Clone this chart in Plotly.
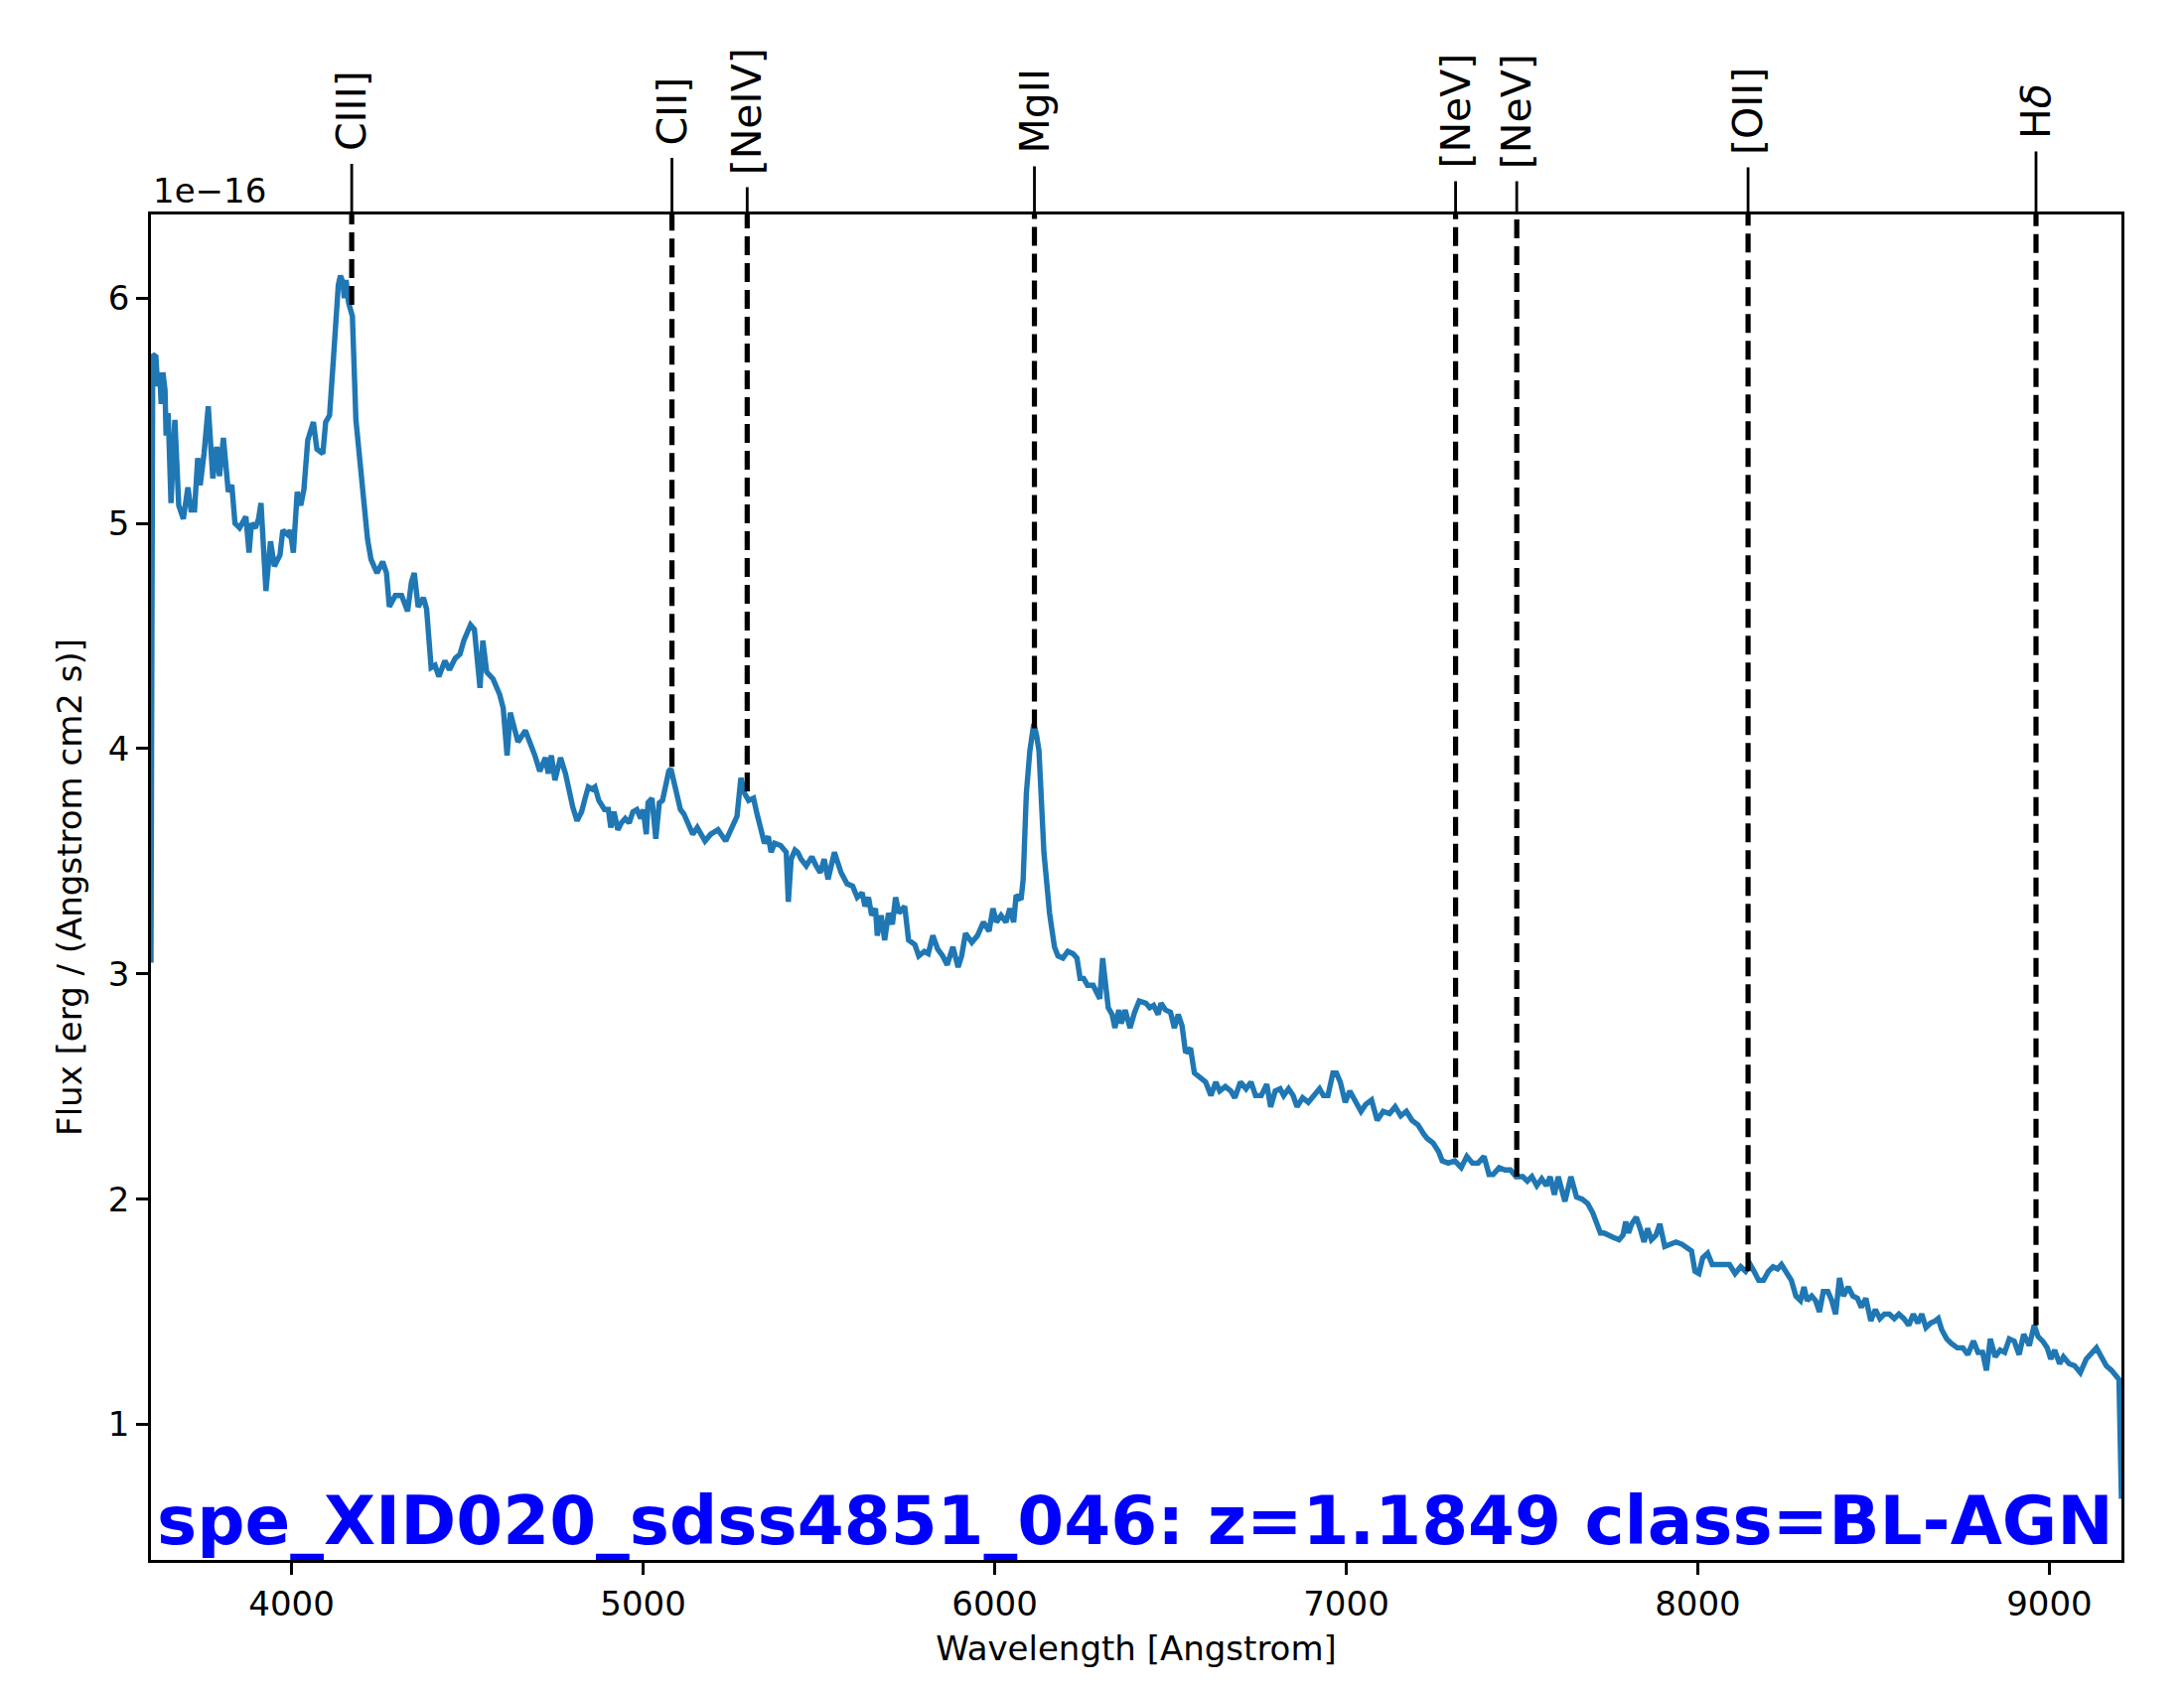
import plotly.graph_objects as go

# ---- spectrum (flux in units of 1e-16 erg / (Angstrom cm2 s)) ----
wavelength = [
    3600, 3605, 3614, 3619, 3625, 3629, 3634, 3640, 3643, 3649, 3657, 3668, 3679, 3692, 3705, 3714,
    3724, 3733, 3740, 3751, 3763, 3776, 3787, 3795, 3806, 3820, 3830, 3839, 3852, 3870, 3879, 3886,
    3897, 3906, 3913, 3927, 3940, 3951, 3967, 3975, 3989, 3996, 4005, 4016, 4026, 4035, 4046, 4062,
    4072, 4089, 4097, 4108, 4119, 4127, 4133, 4139, 4146, 4150, 4155, 4162, 4173, 4183, 4199, 4216,
    4226, 4243, 4259, 4270, 4278, 4295, 4313, 4330, 4341, 4349, 4360, 4375, 4384, 4397, 4408, 4419,
    4436, 4449, 4465, 4479, 4490, 4509, 4520, 4536, 4544, 4555, 4573, 4592, 4602, 4613, 4622, 4633,
    4644, 4665, 4681, 4692, 4706, 4722, 4730, 4739, 4749, 4765, 4779, 4790, 4800, 4812, 4825, 4835,
    4844, 4855, 4863, 4874, 4890, 4901, 4908, 4917, 4928, 4938, 4949, 4960, 4971, 4982, 4993, 5000,
    5009, 5014, 5025, 5036, 5046, 5055, 5063, 5073, 5079, 5090, 5098, 5106, 5116, 5127, 5141, 5154,
    5176, 5192, 5213, 5235, 5251, 5267, 5278, 5289, 5300, 5314, 5324, 5337, 5345, 5356, 5364, 5374,
    5391, 5407, 5413, 5421, 5432, 5440, 5449, 5464, 5480, 5492, 5504, 5515, 5526, 5544, 5553, 5563,
    5580, 5596, 5609, 5623, 5631, 5641, 5650, 5661, 5666, 5677, 5687, 5698, 5709, 5718, 5728, 5744,
    5755, 5773, 5784, 5800, 5811, 5824, 5838, 5852, 5865, 5881, 5896, 5906, 5917, 5935, 5951, 5968,
    5984, 5995, 6005, 6018, 6032, 6043, 6054, 6061, 6075, 6081, 6090, 6100, 6111, 6119, 6126, 6140,
    6156, 6170, 6180, 6194, 6208, 6223, 6234, 6243, 6253, 6264, 6280, 6291, 6299, 6307, 6314, 6323,
    6334, 6342, 6353, 6360, 6371, 6385, 6398, 6411, 6430, 6441, 6452, 6465, 6473, 6486, 6500, 6511,
    6522, 6533, 6543, 6557, 6568, 6586, 6600, 6615, 6629, 6640, 6656, 6672, 6683, 6699, 6715, 6729,
    6742, 6758, 6774, 6785, 6798, 6812, 6822, 6836, 6849, 6860, 6876, 6892, 6908, 6924, 6935, 6948,
    6962, 6972, 6983, 6997, 7010, 7026, 7042, 7055, 7072, 7088, 7105, 7123, 7139, 7155, 7171, 7187,
    7204, 7220, 7230, 7247, 7263, 7273, 7290, 7309, 7327, 7343, 7359, 7375, 7392, 7406, 7418, 7435,
    7451, 7467, 7483, 7502, 7515, 7528, 7542, 7556, 7569, 7580, 7592, 7603, 7622, 7639, 7655, 7671,
    7687, 7701, 7712, 7723, 7733, 7744, 7760, 7776, 7787, 7795, 7803, 7812, 7825, 7836, 7847, 7857,
    7868, 7881, 7892, 7906, 7922, 7938, 7955, 7971, 7982, 7992, 8003, 8014, 8028, 8041, 8057, 8073,
    8090, 8106, 8122, 8136, 8149, 8160, 8173, 8187, 8201, 8214, 8227, 8238, 8252, 8266, 8279, 8292,
    8302, 8311, 8324, 8335, 8346, 8357, 8370, 8381, 8392, 8403, 8414, 8428, 8441, 8454, 8465, 8478,
    8492, 8505, 8518, 8531, 8545, 8559, 8572, 8586, 8600, 8613, 8626, 8637, 8649, 8662, 8676, 8684,
    8694, 8708, 8721, 8738, 8754, 8768, 8784, 8797, 8810, 8821, 8832, 8846, 8860, 8873, 8886, 8900,
    8914, 8927, 8943, 8957, 8968, 8981, 8994, 9004, 9015, 9029, 9040, 9056, 9072, 9088, 9105, 9121,
    9134, 9148, 9162, 9177, 9191, 9198, 9205,
]
flux = [
    3.05, 5.75, 5.74, 5.61, 5.67, 5.53, 5.67, 5.59, 5.39, 5.49, 5.09, 5.46, 5.08, 5.02, 5.16, 5.06,
    5.06, 5.29, 5.17, 5.31, 5.52, 5.20, 5.34, 5.21, 5.38, 5.14, 5.17, 5.00, 4.98, 5.03, 4.87, 5.00,
    4.98, 5.02, 5.09, 4.70, 4.92, 4.81, 4.86, 4.97, 4.95, 4.97, 4.87, 5.14, 5.08, 5.15, 5.37, 5.45,
    5.33, 5.31, 5.45, 5.48, 5.73, 5.89, 6.06, 6.10, 6.07, 6.00, 6.08, 5.98, 5.92, 5.46, 5.20, 4.93,
    4.84, 4.78, 4.83, 4.78, 4.63, 4.68, 4.68, 4.61, 4.74, 4.78, 4.63, 4.67, 4.62, 4.36, 4.37, 4.32,
    4.39, 4.35, 4.40, 4.42, 4.48, 4.55, 4.53, 4.27, 4.48, 4.34, 4.31, 4.24, 4.18, 3.97, 4.16, 4.09,
    4.03, 4.08, 4.02, 3.97, 3.90, 3.96, 3.89, 3.97, 3.86, 3.96, 3.89, 3.80, 3.74, 3.68, 3.72, 3.78,
    3.83, 3.82, 3.83, 3.77, 3.73, 3.73, 3.65, 3.72, 3.64, 3.67, 3.69, 3.67, 3.72, 3.73, 3.69, 3.73,
    3.62, 3.76, 3.78, 3.60, 3.76, 3.77, 3.84, 3.90, 3.91, 3.84, 3.80, 3.73, 3.71, 3.67, 3.62, 3.65,
    3.59, 3.62, 3.64, 3.59, 3.65, 3.70, 3.87, 3.80, 3.77, 3.78, 3.71, 3.64, 3.58, 3.61, 3.54, 3.58,
    3.57, 3.54, 3.32, 3.51, 3.55, 3.54, 3.51, 3.48, 3.52, 3.48, 3.45, 3.51, 3.42, 3.54, 3.49, 3.45,
    3.40, 3.39, 3.34, 3.36, 3.30, 3.34, 3.26, 3.29, 3.17, 3.26, 3.15, 3.27, 3.22, 3.34, 3.27, 3.30,
    3.15, 3.13, 3.08, 3.10, 3.09, 3.17, 3.11, 3.08, 3.04, 3.12, 3.03, 3.08, 3.18, 3.14, 3.17, 3.23,
    3.19, 3.29, 3.23, 3.26, 3.23, 3.29, 3.23, 3.35, 3.33, 3.42, 3.80, 3.99, 4.11, 4.06, 3.99, 3.54,
    3.27, 3.12, 3.08, 3.07, 3.10, 3.09, 3.07, 2.98, 2.98, 2.95, 2.95, 2.92, 2.89, 3.07, 2.95, 2.85,
    2.82, 2.76, 2.84, 2.78, 2.84, 2.76, 2.83, 2.88, 2.87, 2.85, 2.86, 2.82, 2.87, 2.84, 2.83, 2.76,
    2.82, 2.77, 2.65, 2.67, 2.56, 2.54, 2.52, 2.46, 2.52, 2.48, 2.50, 2.48, 2.45, 2.52, 2.49, 2.52,
    2.46, 2.46, 2.51, 2.41, 2.48, 2.49, 2.46, 2.49, 2.46, 2.41, 2.45, 2.43, 2.46, 2.49, 2.46, 2.46,
    2.56, 2.56, 2.52, 2.43, 2.48, 2.43, 2.39, 2.42, 2.44, 2.35, 2.39, 2.38, 2.41, 2.37, 2.39, 2.35,
    2.33, 2.29, 2.27, 2.25, 2.21, 2.17, 2.16, 2.17, 2.14, 2.19, 2.16, 2.16, 2.19, 2.11, 2.11, 2.14,
    2.13, 2.13, 2.10, 2.10, 2.08, 2.10, 2.06, 2.09, 2.06, 2.10, 2.02, 2.10, 1.99, 2.10, 2.01, 2.00,
    1.98, 1.94, 1.89, 1.85, 1.85, 1.84, 1.83, 1.82, 1.84, 1.90, 1.85, 1.89, 1.92, 1.87, 1.81, 1.87,
    1.82, 1.84, 1.89, 1.79, 1.80, 1.81, 1.80, 1.78, 1.77, 1.68, 1.67, 1.74, 1.76, 1.71, 1.71, 1.71,
    1.71, 1.67, 1.70, 1.68, 1.71, 1.68, 1.64, 1.64, 1.68, 1.70, 1.69, 1.71, 1.68, 1.64, 1.57, 1.55,
    1.61, 1.55, 1.57, 1.55, 1.50, 1.59, 1.59, 1.55, 1.49, 1.65, 1.57, 1.61, 1.57, 1.56, 1.52, 1.56,
    1.46, 1.51, 1.47, 1.49, 1.49, 1.47, 1.49, 1.47, 1.44, 1.49, 1.45, 1.49, 1.43, 1.45, 1.46, 1.47,
    1.42, 1.38, 1.36, 1.34, 1.34, 1.31, 1.37, 1.32, 1.32, 1.24, 1.38, 1.30, 1.33, 1.32, 1.38, 1.37,
    1.31, 1.40, 1.35, 1.44, 1.39, 1.37, 1.34, 1.29, 1.33, 1.27, 1.30, 1.27, 1.26, 1.23, 1.29, 1.32,
    1.34, 1.30, 1.26, 1.24, 1.21, 1.20, 0.67,
]

# ---- emission line markers ----
line_names = ["CIII]", "CII]", "[NeIV]", "MgII", "[NeV]", "[NeV]", "[OII]", "H<i>δ</i>"]
line_wavelengths = [4171, 5082, 5296, 6113, 7311, 7485, 8143, 8962]
line_floor_flux = [5.97, 3.92, 3.81, 4.09, 2.185, 2.10, 1.68, 1.44]

x_ticks = [4000, 5000, 6000, 7000, 8000, 9000]
y_ticks = [1, 2, 3, 4, 5, 6]

title_text = "spe_XID020_sdss4851_046: z=1.1849 class=BL-AGN"
offset_text = "1e\u221216"

# matplotlib-like autoscale: tight in x, 5% margin in y
x_range = [min(wavelength), max(wavelength)]
span = max(flux) - min(flux)
y_range = [min(flux) - 0.05 * span, max(flux) + 0.05 * span]

FONT = "DejaVu Sans"
BLUE = "#1f77b4"
LW = 5.4
SPINE = 2.8

fig = go.Figure()
fig.add_trace(go.Scatter(x=wavelength, y=flux, mode="lines",
                         line=dict(color=BLUE, width=LW),
                         showlegend=False, hoverinfo="skip"))
for w, f in zip(line_wavelengths, line_floor_flux):
    fig.add_trace(go.Scatter(x=[w, w], y=[f, y_range[1]], mode="lines",
                             line=dict(color="black", width=5.2, dash="19px,8px"),
                             showlegend=False, hoverinfo="skip", cliponaxis=False))

axis_common = dict(showgrid=False, zeroline=False, showline=True, linecolor="black",
                   linewidth=SPINE, ticks="outside", tickcolor="black", tickwidth=SPINE,
                   mirror=True)

# line labels above the axes: text centred ~104 px above the top spine,
# connected to the spine by a thin line (arrow without head)
label_annotations = [
    dict(text=name, x=w, y=1, xref="x", yref="paper", showarrow=True,
         arrowhead=0, arrowwidth=2.8, arrowcolor="black", ax=0, ay=-104,
         textangle=-90, borderpad=12, standoff=0,
         font=dict(family=FONT, size=41, color="black"))
    for name, w in zip(line_names, line_wavelengths)
]

fig.update_layout(
    width=2183, height=1686, autosize=False,
    margin=dict(l=144, r=55, t=208, b=123, pad=0),
    paper_bgcolor="white", plot_bgcolor="white",
    font=dict(family=FONT, color="black", size=34),
    xaxis=dict(range=x_range, tickvals=x_ticks, ticklen=12,
               tickfont=dict(family=FONT, size=34),
               title=dict(text="Wavelength [Angstrom]", font=dict(family=FONT, size=34), standoff=15),
               **axis_common),
    yaxis=dict(range=y_range, tickvals=y_ticks, ticklen=12,
               tickfont=dict(family=FONT, size=34),
               title=dict(text="Flux [erg / (Angstrom cm2 s)]", font=dict(family=FONT, size=34), standoff=16),
               **axis_common),
    annotations=label_annotations + [
        dict(text=offset_text, x=0, y=1, xref="paper", yref="paper", xanchor="left",
             yanchor="bottom", showarrow=False, font=dict(family=FONT, size=34), yshift=2),
        dict(text="<b>" + title_text + "</b>", x=0, y=0, xref="paper", yref="paper",
             xanchor="left", yanchor="bottom", showarrow=False, xshift=4, yshift=-2,
             font=dict(family=FONT, size=67.5, color="#0000ff")),
    ],
)

fig.write_html("out.html")
